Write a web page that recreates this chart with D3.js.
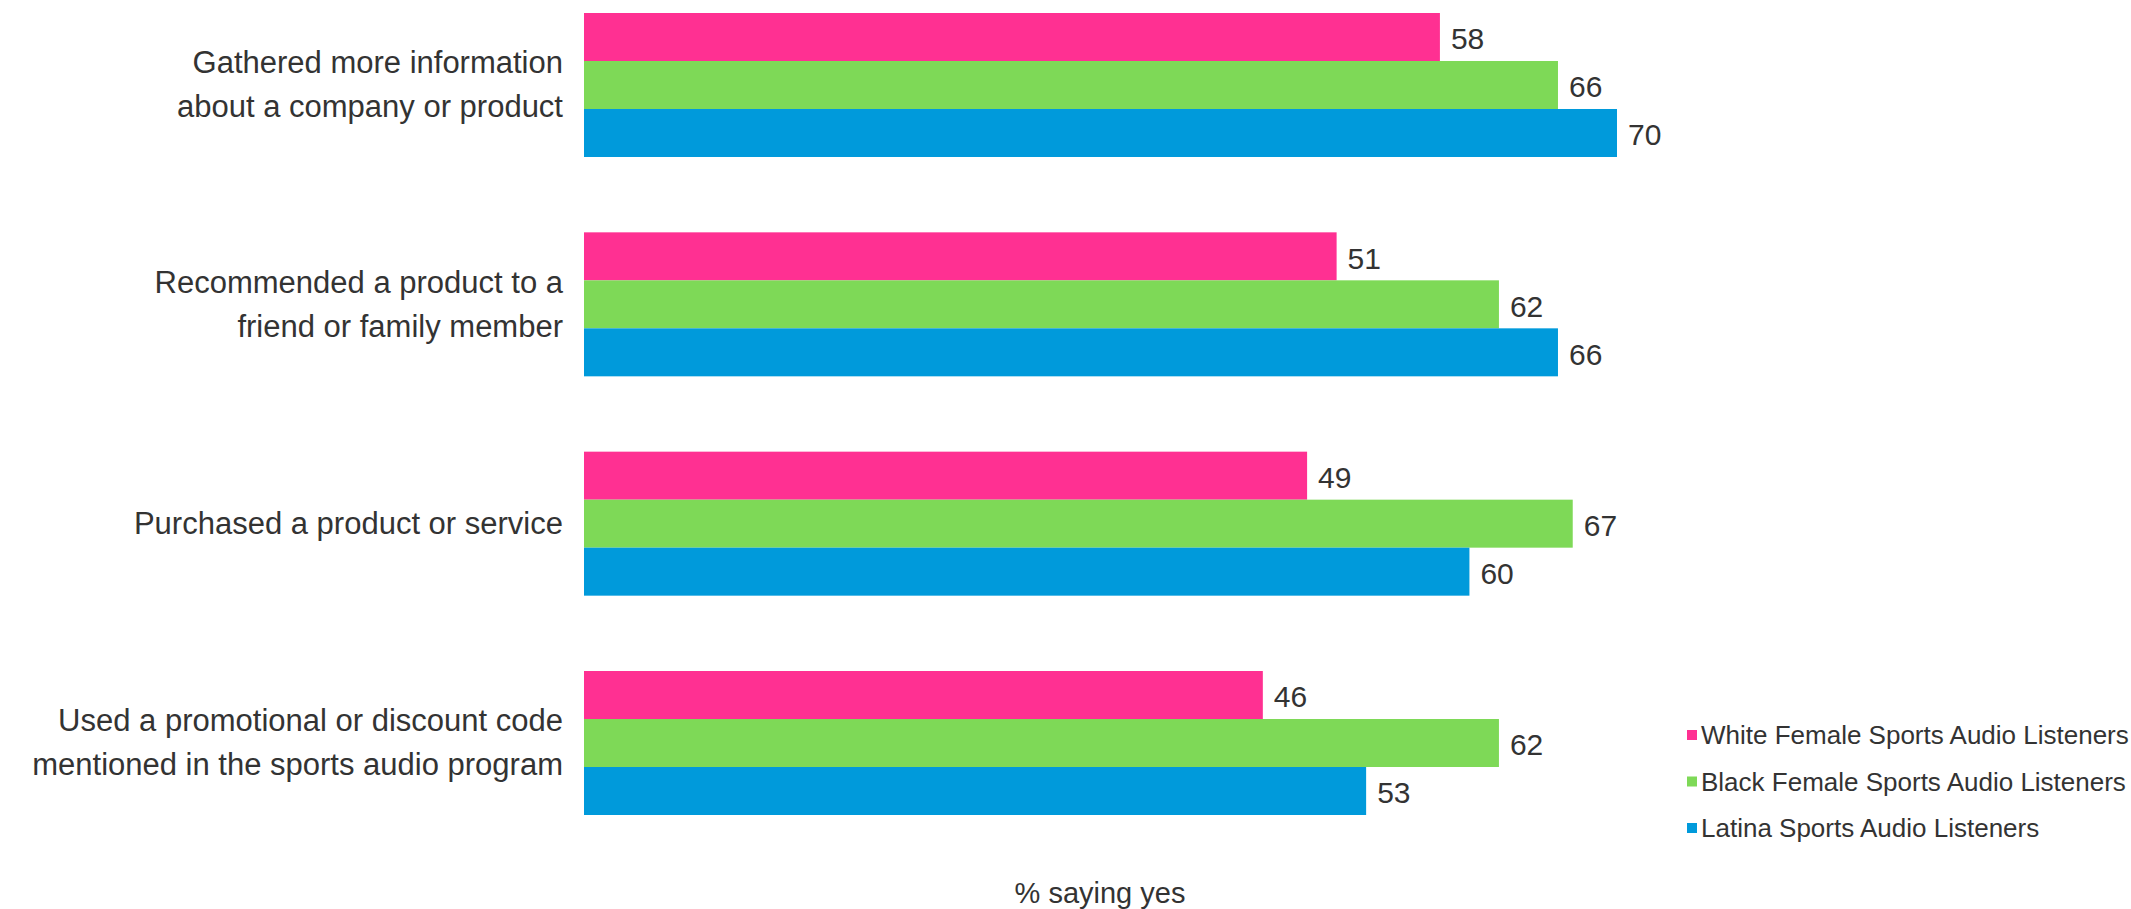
<!DOCTYPE html>
<html>
<head>
<meta charset="utf-8">
<script src="https://cdn.jsdelivr.net/npm/d3@7"></script>
<style>
  html, body { margin: 0; padding: 0; background: #ffffff; }
  svg { display: block; }
  text { font-family: "Liberation Sans", Arial, sans-serif; fill: #333333; }
</style>
</head>
<body>
<svg id="chart" width="2131" height="909"></svg>
<script>
// ---- data ----
const categories = [
  ["Gathered more information", "about a company or product"],
  ["Recommended a product to a", "friend or family member"],
  ["Purchased a product or service"],
  ["Used a promotional or discount code", "mentioned in the sports audio program"]
];
const seriesNames = [
  "White Female Sports Audio Listeners",
  "Black Female Sports Audio Listeners",
  "Latina Sports Audio Listeners"
];
const whiteValues  = [58, 51, 49, 46];
const blackValues  = [66, 62, 67, 62];
const latinaValues = [70, 66, 60, 53];
const seriesColors = ["#FF3092", "#7ED957", "#009ADB"];
const axisTitle = "% saying yes";

const seriesValues = [whiteValues, blackValues, latinaValues];
const catKeys = categories.map((c, i) => i);

// ---- layout ----
const svg = d3.select("#chart");

const x = d3.scaleLinear().domain([0, 70]).range([584, 1617]);
const y0 = d3.scaleBand().domain(catKeys).range([13, 815]).paddingInner(0.3435).paddingOuter(0);
const y1 = d3.scaleBand().domain(d3.range(seriesNames.length)).range([0, y0.bandwidth()]).padding(0);

const groups = svg.selectAll("g.cat")
  .data(catKeys)
  .join("g")
  .attr("class", "cat")
  .attr("transform", d => `translate(0,${y0(d)})`);

groups.selectAll("rect")
  .data(ci => seriesValues.map((vals, si) => ({ si, v: vals[ci] })))
  .join("rect")
  .attr("x", x(0))
  .attr("y", d => y1(d.si))
  .attr("width", d => x(d.v) - x(0))
  .attr("height", y1.bandwidth())
  .attr("fill", d => seriesColors[d.si]);

groups.selectAll("text.val")
  .data(ci => seriesValues.map((vals, si) => ({ si, v: vals[ci] })))
  .join("text")
  .attr("class", "val")
  .attr("x", d => x(d.v) + 11)
  .attr("y", d => y1(d.si) + y1.bandwidth() / 2 + 2)
  .attr("dominant-baseline", "central")
  .attr("font-size", 30)
  .text(d => d.v);

// category labels
const lineGap = 44;
groups.append("text")
  .attr("class", "cat-label")
  .attr("text-anchor", "end")
  .attr("font-size", 31)
  .each(function (ci) {
    const lines = categories[ci];
    const t = d3.select(this);
    const cy = y0.bandwidth() / 2;
    lines.forEach((ln, li) => {
      t.append("tspan")
        .attr("x", x(0) - 21)
        .attr("y", cy + (li - (lines.length - 1) / 2) * lineGap)
        .attr("dominant-baseline", "central")
        .text(ln);
    });
  });

// axis title
svg.append("text")
  .attr("x", 1100)
  .attr("y", 903)
  .attr("text-anchor", "middle")
  .attr("font-size", 29)
  .text(axisTitle);

// legend
const legend = svg.append("g").attr("class", "legend");
const legendY = d3.scalePoint().domain(d3.range(seriesNames.length)).range([735, 828]);
const li = legend.selectAll("g").data(seriesNames).join("g")
  .attr("transform", (d, i) => `translate(1687,${legendY(i)})`);
li.append("rect")
  .attr("x", 0).attr("y", -5).attr("width", 10).attr("height", 10)
  .attr("fill", (d, i) => seriesColors[i]);
li.append("text")
  .attr("x", 14).attr("y", 0)
  .attr("dominant-baseline", "central")
  .attr("font-size", 26)
  .text(d => d);
</script>
</body>
</html>
